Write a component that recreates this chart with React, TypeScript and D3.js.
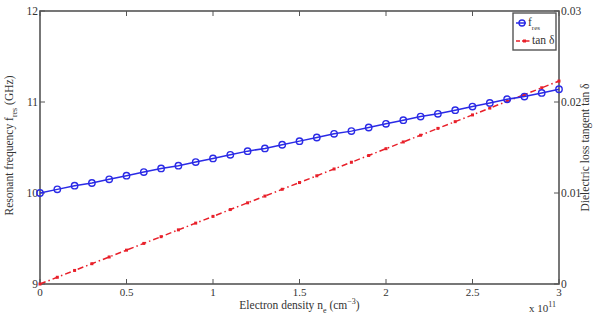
import { useEffect, useRef } from 'react';
import * as d3 from 'd3';

// electron density (x 10^11 cm^-3), step 0.1
const density = [
  0, 0.1, 0.2, 0.3, 0.4, 0.5, 0.6, 0.7, 0.8, 0.9, 1.0, 1.1, 1.2, 1.3, 1.4, 1.5, 1.6, 1.7, 1.8, 1.9, 2.0,
  2.1, 2.2, 2.3, 2.4, 2.5, 2.6, 2.7, 2.8, 2.9, 3.0,
];
// resonant frequency (GHz)
const fRes = [
  10.0, 10.04, 10.08, 10.11, 10.15, 10.19, 10.23, 10.27, 10.3, 10.34, 10.38, 10.42, 10.46, 10.49, 10.53,
  10.57, 10.61, 10.65, 10.68, 10.72, 10.76, 10.8, 10.84, 10.87, 10.91, 10.95, 10.99, 11.03, 11.06, 11.1,
  11.14,
];
// dielectric loss tangent
const tanDelta = [
  0, 0.00074, 0.00149, 0.00223, 0.00297, 0.00372, 0.00446, 0.0052, 0.00595, 0.00669, 0.00743, 0.00818,
  0.00892, 0.00966, 0.01041, 0.01115, 0.01189, 0.01264, 0.01338, 0.01412, 0.01487, 0.01561, 0.01635,
  0.0171, 0.01784, 0.01858, 0.01933, 0.02007, 0.02081, 0.02156, 0.0223,
];
const xTicks = [0, 0.5, 1, 1.5, 2, 2.5, 3];
const xTickLabels = ['0', '0.5', '1', '1.5', '2', '2.5', '3'];
const leftTicks = [9, 10, 11, 12];
const rightTicks = [0, 0.01, 0.02, 0.03];
const rightTickLabels = ['0', '0.01', '0.02', '0.03'];

export default function App() {
  const svgRef = useRef<SVGSVGElement>(null);

  useEffect(() => {
    if (!svgRef.current) return;
    const width = 595;
    const height = 322;
    const margin = { top: 11, right: 36, bottom: 38, left: 40 };
    const innerWidth = width - margin.left - margin.right;
    const innerHeight = height - margin.top - margin.bottom;

    const svg = d3.select(svgRef.current);
    svg.selectAll('*').remove();
    svg.attr('width', width).attr('height', height);

    const font = '"Liberation Serif", "DejaVu Serif", serif';
    const axisColor = '#555';

    svg.append('rect').attr('width', width).attr('height', height).attr('fill', '#fff');

    const g = svg.append('g').attr('transform', `translate(${margin.left},${margin.top})`);

    const x = d3.scaleLinear().domain([0, 3]).range([0, innerWidth]);
    const yL = d3.scaleLinear().domain([9, 12]).range([innerHeight, 0]);
    const yR = d3.scaleLinear().domain([0, 0.03]).range([innerHeight, 0]);

    const tickLen = 5;

    // Box
    g.append('rect')
      .attr('width', innerWidth)
      .attr('height', innerHeight)
      .attr('fill', 'none')
      .attr('stroke', axisColor)
      .attr('stroke-width', 1.6);

    // x ticks (bottom + top, inward)
    xTicks.forEach((t, i) => {
      const px = x(t);
      g.append('line').attr('x1', px).attr('x2', px).attr('y1', innerHeight).attr('y2', innerHeight - tickLen)
        .attr('stroke', axisColor);
      g.append('line').attr('x1', px).attr('x2', px).attr('y1', 0).attr('y2', tickLen).attr('stroke', axisColor);
      g.append('text')
        .attr('x', px)
        .attr('y', innerHeight + 12)
        .attr('text-anchor', 'middle')
        .style('font-family', font)
        .style('font-size', '11px')
        .attr('fill', '#333')
        .text(xTickLabels[i]);
    });

    // left ticks
    leftTicks.forEach((t) => {
      const py = yL(t);
      g.append('line').attr('x1', 0).attr('x2', tickLen).attr('y1', py).attr('y2', py).attr('stroke', axisColor);
      g.append('text')
        .attr('x', -2)
        .attr('y', py + 4)
        .attr('text-anchor', 'end')
        .style('font-family', font)
        .style('font-size', '11.5px')
        .attr('fill', '#333')
        .text(String(t));
    });

    // right ticks
    rightTicks.forEach((t, i) => {
      const py = yR(t);
      g.append('line').attr('x1', innerWidth).attr('x2', innerWidth - tickLen).attr('y1', py).attr('y2', py)
        .attr('stroke', axisColor);
      g.append('text')
        .attr('x', innerWidth + 2)
        .attr('y', py + 4)
        .attr('text-anchor', 'start')
        .style('font-family', font)
        .style('font-size', '11.5px')
        .attr('fill', '#333')
        .text(rightTickLabels[i]);
    });

    // exponent label
    const exp = g.append('text')
      .attr('x', innerWidth - 30)
      .attr('y', innerHeight + 28)
      .style('font-family', font)
      .style('font-size', '11px')
      .attr('fill', '#333');
    exp.append('tspan').text('x 10');
    exp.append('tspan').attr('dy', -5).style('font-size', '8px').text('11');

    // x axis label
    const xl = g.append('text')
      .attr('x', innerWidth / 2)
      .attr('y', innerHeight + 25)
      .attr('text-anchor', 'middle')
      .style('font-family', font)
      .style('font-size', '11.5px')
      .attr('fill', '#333');
    xl.append('tspan').text('Electron density n');
    xl.append('tspan').attr('dy', 4).style('font-size', '8px').text('e');
    xl.append('tspan').attr('dy', -4).text(' (cm');
    xl.append('tspan').attr('dy', -5).style('font-size', '8px').text('−3');
    xl.append('tspan').attr('dy', 5).text(')');

    // left axis label
    const ll = g.append('text')
      .attr('transform', `translate(${-27},${innerHeight / 2 - 2}) rotate(-90)`)
      .attr('text-anchor', 'middle')
      .style('font-family', font)
      .style('font-size', '11.5px')
      .attr('fill', '#333');
    ll.append('tspan').text('Resonant frequency f');
    ll.append('tspan').attr('dy', 4).style('font-size', '8px').text('res');
    ll.append('tspan').attr('dy', -4).text(' (GHz)');

    // right axis label
    g.append('text')
      .attr('transform', `translate(${innerWidth + 30},${innerHeight / 2}) rotate(-90)`)
      .attr('text-anchor', 'middle')
      .style('font-family', font)
      .style('font-size', '11.5px')
      .attr('fill', '#333')
      .text('Dielectric loss tangent tan δ');

    const blue = '#2a2ae6';
    const red = '#e8202a';

    // tan delta line (dash-dot)
    const redLine = d3.line<number>().x((_, i) => x(density[i])).y((d) => yR(d));
    g.append('path')
      .datum(tanDelta)
      .attr('d', redLine)
      .attr('fill', 'none')
      .attr('stroke', red)
      .attr('stroke-width', 1.5)
      .attr('stroke-dasharray', '6,3,1.5,3');
    g.selectAll('.rm')
      .data(tanDelta)
      .join('rect')
      .attr('class', 'rm')
      .attr('x', (_, i) => x(density[i]) - 1.5)
      .attr('y', (d) => yR(d) - 1.5)
      .attr('width', 3)
      .attr('height', 3)
      .attr('fill', red);

    // f_res line
    const blueLine = d3.line<number>().x((_, i) => x(density[i])).y((d) => yL(d));
    g.append('path')
      .datum(fRes)
      .attr('d', blueLine)
      .attr('fill', 'none')
      .attr('stroke', blue)
      .attr('stroke-width', 1.5);
    g.selectAll('.bm')
      .data(fRes)
      .join('circle')
      .attr('class', 'bm')
      .attr('cx', (_, i) => x(density[i]))
      .attr('cy', (d) => yL(d))
      .attr('r', 3.2)
      .attr('fill', 'none')
      .attr('stroke', blue)
      .attr('stroke-width', 1.4);

    // legend
    const lg = g.append('g').attr('transform', `translate(${innerWidth - 46},2)`);
    lg.append('rect')
      .attr('width', 43)
      .attr('height', 37)
      .attr('fill', '#fff')
      .attr('stroke', axisColor)
      .attr('stroke-width', 1.4);
    lg.append('line').attr('x1', 3).attr('x2', 13).attr('y1', 10).attr('y2', 10).attr('stroke', blue)
      .attr('stroke-width', 1.5);
    lg.append('circle').attr('cx', 9).attr('cy', 10).attr('r', 3).attr('fill', 'none').attr('stroke', blue)
      .attr('stroke-width', 1.4);
    const t1 = lg.append('text').attr('x', 15).attr('y', 13).style('font-family', font)
      .style('font-size', '11.5px').attr('fill', '#333');
    t1.append('tspan').text('f');
    t1.append('tspan').attr('dy', 4).style('font-size', '7px').text('res');
    lg.append('line').attr('x1', 3).attr('x2', 17).attr('y1', 28).attr('y2', 28).attr('stroke', red)
      .attr('stroke-width', 1.5).attr('stroke-dasharray', '4,2,1.5,2');
    lg.append('rect').attr('x', 10).attr('y', 26.5).attr('width', 3).attr('height', 3).attr('fill', red);
    lg.append('text').attr('x', 19).attr('y', 31).style('font-family', font)
      .style('font-size', '11.5px').attr('fill', '#333').text('tan δ');
  }, []);

  return (
    <div style={{ position: 'absolute', left: 0, top: 0 }}>
      <svg ref={svgRef}></svg>
    </div>
  );
}
